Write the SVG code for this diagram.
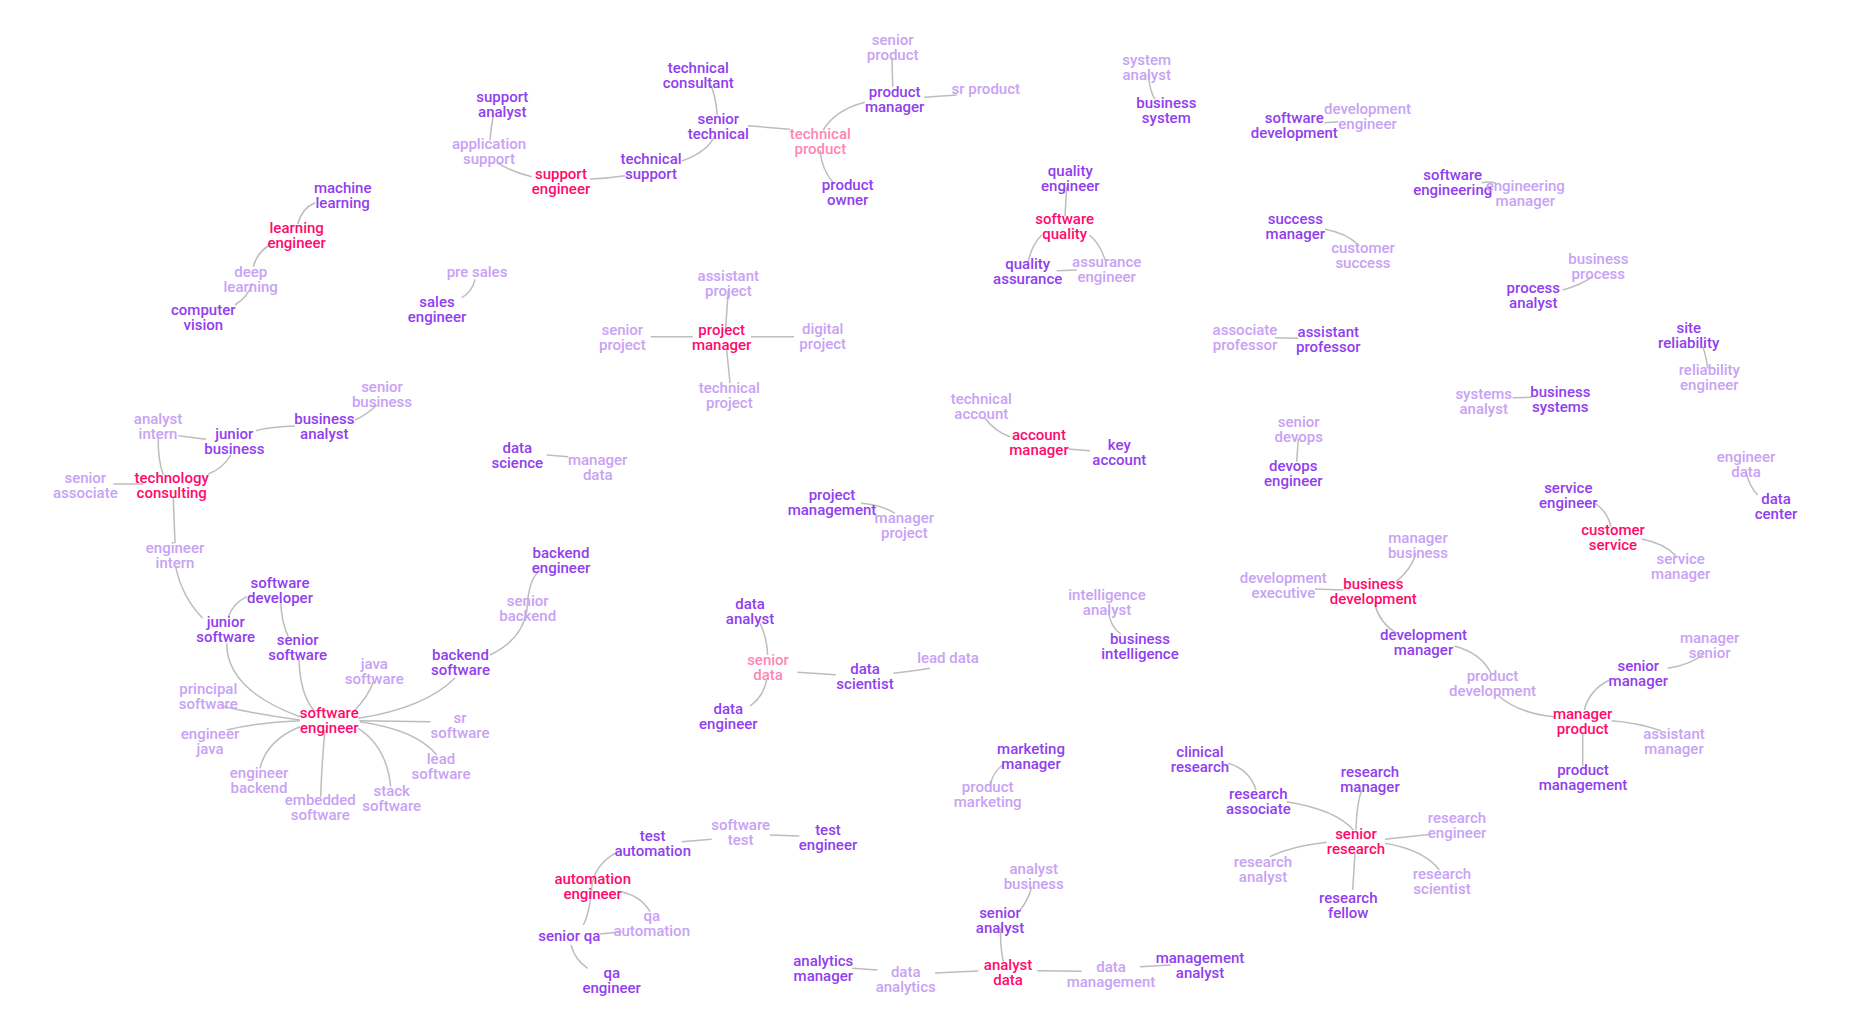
<svg xmlns="http://www.w3.org/2000/svg" width="1861" height="1025" viewBox="0 0 1861 1025">
<style>
text{font-family:Roboto,"Liberation Sans",sans-serif;font-size:15px;font-weight:500;text-anchor:middle}
.p{fill:#9040ee}.l{fill:#c8a2f4}.h{fill:#ff0a6e}.hl{fill:#ff86b6}
#links path{fill:none;stroke:#bdbdbd;stroke-width:1.5}
</style>
<rect width="1861" height="1025" fill="#fff"/>
<g id="links">
<path d="M315,202.7 Q301.7,208.3 297.7,224"/>
<path d="M269.3,245 Q256.7,253.3 253.3,266.7"/>
<path d="M252.3,283.3 Q248.3,296.7 235,305"/>
<path d="M461.7,297.7 Q472,292 475,279.3"/>
<path d="M493.3,116 Q491,126.7 490,140"/>
<path d="M496.7,162.7 Q511.7,171.7 531.7,176.7"/>
<path d="M590,179 Q608.3,178.3 625,175.7"/>
<path d="M681.7,161 Q708.3,151.7 715,135"/>
<path d="M717.3,115 Q715.7,95 710,83.3"/>
<path d="M747.7,125.7 L790,129.3"/>
<path d="M823.3,130 Q835,110 865,102.3"/>
<path d="M820,150 Q821.7,170 833.3,182.7"/>
<path d="M892.7,86.7 L892,57.3"/>
<path d="M924.3,97.3 L956.7,95"/>
<path d="M728.3,290 L725.7,328.3"/>
<path d="M650.7,336.7 L692.7,336.7"/>
<path d="M751,336.7 L794,336.7"/>
<path d="M1148.3,75 Q1150,91.7 1155,99.3"/>
<path d="M1324.3,122.7 L1338.3,121.7"/>
<path d="M1066.7,186.7 L1065,216"/>
<path d="M1041.7,235 Q1031.7,245 1028.3,261.7"/>
<path d="M1089.3,235 Q1100,243.3 1105,260"/>
<path d="M1056.7,270.7 L1076.7,270"/>
<path d="M1325,229.3 Q1346.7,233.3 1358.3,245"/>
<path d="M1275,337.7 L1298.3,338.3"/>
<path d="M1481.7,182.7 Q1490,181 1496,183.3"/>
<path d="M1562.7,290 Q1581,285 1592.7,276.7"/>
<path d="M1702.7,346.7 Q1706,355 1707.7,368.3"/>
<path d="M1512.7,397.7 L1531.7,397.3"/>
<path d="M1746,471.7 Q1749.3,486.7 1757.7,495"/>
<path d="M1595,503.3 Q1607.7,511.7 1611,526.7"/>
<path d="M1641.7,539 Q1664.3,543.3 1676,556"/>
<path d="M1416,553.3 Q1411,570 1396,581.7"/>
<path d="M1315,589 L1343.3,590"/>
<path d="M1375,605 Q1380,623.3 1396.7,633.3"/>
<path d="M1454.3,646 Q1481,653 1491,673.3"/>
<path d="M1667.7,668.3 Q1691,665 1704.3,653.3"/>
<path d="M1609.3,680 Q1589.3,690 1584.3,710"/>
<path d="M1497.7,695 Q1517.7,713.3 1554.3,716.7"/>
<path d="M1611.7,720.7 Q1637.7,722.7 1661,730.7"/>
<path d="M1582.7,733.3 L1582.7,766"/>
<path d="M1385,839.3 L1431,834.3"/>
<path d="M1385,843.3 Q1424.3,850 1439.3,870"/>
<path d="M1002.7,765 Q992.7,771.7 990,786"/>
<path d="M1228.3,763.3 Q1250,770 1256,790"/>
<path d="M1286.7,801.7 Q1336.7,810 1353.3,830"/>
<path d="M1361.7,790 Q1356.7,803.3 1356,830"/>
<path d="M1326.7,842.3 Q1290,846.7 1270,856.7"/>
<path d="M1355,853.3 L1352.7,890"/>
<path d="M1031.7,886.7 Q1028.3,900 1020,910"/>
<path d="M1000.7,928.3 Q1000,946.7 1003.3,961.7"/>
<path d="M1037.3,970.7 L1081.7,971.3"/>
<path d="M1140,966.7 L1170.7,965"/>
<path d="M978.3,971 L935,973"/>
<path d="M852.3,968.3 L877.3,970"/>
<path d="M766.7,680 Q763.3,696.7 750,706"/>
<path d="M681.7,841.7 L711.7,839.3"/>
<path d="M770,835 L799.3,836"/>
<path d="M615,853.3 Q595,865 592,885 Q590,912 583.3,925"/>
<path d="M621.7,891.7 Q641.7,896.7 650,911.7"/>
<path d="M600,934 L621.7,931.7"/>
<path d="M571,945 Q575,960 587.7,968.3"/>
<path d="M726.7,350 L730,383.3"/>
<path d="M546.7,455 L568.3,456.7"/>
<path d="M861,503.3 Q881.7,505 895,513.3"/>
<path d="M540,570 Q528,580 527,610 Q522,640 490,655"/>
<path d="M760,623.3 Q766.7,636.7 767.7,655"/>
<path d="M797.3,672.3 L835.7,674.7"/>
<path d="M893.3,673.3 Q915,671 930,668.3"/>
<path d="M985,418.3 Q995,431.7 1010,436.7"/>
<path d="M1068.3,449 L1090,450.7"/>
<path d="M1298.3,438.3 L1296.7,461.7"/>
<path d="M1108.3,610 Q1110,626.7 1120.7,634"/>
<path d="M376.7,405 Q366.7,415 355,420"/>
<path d="M295,426 Q266.7,427.3 256,430.7"/>
<path d="M178.3,435.7 L206,439.3"/>
<path d="M230.7,455 Q223.3,468.3 208.3,474"/>
<path d="M158.3,436.7 Q157.7,460 163.3,475"/>
<path d="M113.3,484 L143.3,484"/>
<path d="M173.3,498.3 L175,543.3"/>
<path d="M175.7,566.7 Q181.7,596.7 202.7,618.3"/>
<path d="M228.3,616.7 Q233.3,603.3 246.7,596.7"/>
<path d="M280.7,601.7 Q281.7,623.3 288.3,636.7"/>
<path d="M299,660 Q300,695 315,711.7"/>
<path d="M226.7,643.3 Q226.7,690 300,716.7"/>
<path d="M373.3,681.7 Q368.3,696.7 353.3,711.7"/>
<path d="M455,678 Q425,708 358.3,718.3"/>
<path d="M300,720 Q260,715 221.7,706"/>
<path d="M300,720.7 Q256.7,722.7 226.7,730"/>
<path d="M300,726.7 Q266.7,740 260,768.3"/>
<path d="M325,730 Q321.7,763.3 320.7,796.7"/>
<path d="M358.3,728.3 Q386.7,746.7 390.7,786.7"/>
<path d="M360,721.7 Q416.7,730 436.7,755"/>
<path d="M359.3,720.7 L430.7,721.7"/>
</g>
<g id="machine-learning"><text class="p" y="193.3"><tspan x="342.7">machine</tspan><tspan x="342.7" dy="15">learning</tspan></text></g>
<g id="learning-engineer"><text class="h" y="233.3"><tspan x="296.7">learning</tspan><tspan x="296.7" dy="15">engineer</tspan></text></g>
<g id="deep-learning"><text class="l" y="277"><tspan x="250.7">deep</tspan><tspan x="250.7" dy="15">learning</tspan></text></g>
<g id="computer-vision"><text class="p" y="315.3"><tspan x="203.3">computer</tspan><tspan x="203.3" dy="15">vision</tspan></text></g>
<g id="sales-engineer"><text class="p" y="307"><tspan x="437">sales</tspan><tspan x="437" dy="15">engineer</tspan></text></g>
<g id="pre-sales"><text class="l" x="477" y="276.5">pre sales</text></g>
<g id="application-support"><text class="l" y="148.7"><tspan x="489">application</tspan><tspan x="489" dy="15">support</tspan></text></g>
<g id="support-analyst"><text class="p" y="101.7"><tspan x="502.3">support</tspan><tspan x="502.3" dy="15">analyst</tspan></text></g>
<g id="support-engineer"><text class="h" y="179.3"><tspan x="561">support</tspan><tspan x="561" dy="15">engineer</tspan></text></g>
<g id="technical-support"><text class="p" y="164.3"><tspan x="651">technical</tspan><tspan x="651" dy="15">support</tspan></text></g>
<g id="technical-consultant"><text class="p" y="72.7"><tspan x="698.3">technical</tspan><tspan x="698.3" dy="15">consultant</tspan></text></g>
<g id="senior-technical"><text class="p" y="123.7"><tspan x="718.3">senior</tspan><tspan x="718.3" dy="15">technical</tspan></text></g>
<g id="technical-product"><text class="hl" y="138.7"><tspan x="820.3">technical</tspan><tspan x="820.3" dy="15">product</tspan></text></g>
<g id="product-owner"><text class="p" y="190.3"><tspan x="847.7">product</tspan><tspan x="847.7" dy="15">owner</tspan></text></g>
<g id="product-manager"><text class="p" y="96.7"><tspan x="894.7">product</tspan><tspan x="894.7" dy="15">manager</tspan></text></g>
<g id="senior-product"><text class="l" y="45.3"><tspan x="892.7">senior</tspan><tspan x="892.7" dy="15">product</tspan></text></g>
<g id="sr-product"><text class="l" x="985.8" y="93.7">sr product</text></g>
<g id="system-analyst"><text class="l" y="65"><tspan x="1146.7">system</tspan><tspan x="1146.7" dy="15">analyst</tspan></text></g>
<g id="business-system"><text class="p" y="107.7"><tspan x="1166.3">business</tspan><tspan x="1166.3" dy="15">system</tspan></text></g>
<g id="software-development"><text class="p" y="122.7"><tspan x="1294.3">software</tspan><tspan x="1294.3" dy="15">development</tspan></text></g>
<g id="development-engineer"><text class="l" y="114.3"><tspan x="1367.5">development</tspan><tspan x="1367.5" dy="15">engineer</tspan></text></g>
<g id="quality-engineer"><text class="p" y="176"><tspan x="1070.3">quality</tspan><tspan x="1070.3" dy="15">engineer</tspan></text></g>
<g id="software-quality"><text class="h" y="224.3"><tspan x="1064.7">software</tspan><tspan x="1064.7" dy="15">quality</tspan></text></g>
<g id="quality-assurance"><text class="p" y="269.3"><tspan x="1027.7">quality</tspan><tspan x="1027.7" dy="15">assurance</tspan></text></g>
<g id="assurance-engineer"><text class="l" y="266.7"><tspan x="1106.7">assurance</tspan><tspan x="1106.7" dy="15">engineer</tspan></text></g>
<g id="success-manager"><text class="p" y="224.3"><tspan x="1295.3">success</tspan><tspan x="1295.3" dy="15">manager</tspan></text></g>
<g id="customer-success"><text class="l" y="252.7"><tspan x="1363">customer</tspan><tspan x="1363" dy="15">success</tspan></text></g>
<g id="associate-professor"><text class="l" y="335.3"><tspan x="1245">associate</tspan><tspan x="1245" dy="15">professor</tspan></text></g>
<g id="assistant-professor"><text class="p" y="337"><tspan x="1328.3">assistant</tspan><tspan x="1328.3" dy="15">professor</tspan></text></g>
<g id="software-engineering"><text class="p" y="180.3"><tspan x="1452.7">software</tspan><tspan x="1452.7" dy="15">engineering</tspan></text></g>
<g id="engineering-manager"><text class="l" y="191"><tspan x="1525.3">engineering</tspan><tspan x="1525.3" dy="15">manager</tspan></text></g>
<g id="business-process"><text class="l" y="264.3"><tspan x="1598.3">business</tspan><tspan x="1598.3" dy="15">process</tspan></text></g>
<g id="process-analyst"><text class="p" y="292.7"><tspan x="1533.3">process</tspan><tspan x="1533.3" dy="15">analyst</tspan></text></g>
<g id="site-reliability"><text class="p" y="332.7"><tspan x="1688.7">site</tspan><tspan x="1688.7" dy="15">reliability</tspan></text></g>
<g id="reliability-engineer"><text class="l" y="375.3"><tspan x="1709.3">reliability</tspan><tspan x="1709.3" dy="15">engineer</tspan></text></g>
<g id="systems-analyst"><text class="l" y="399.3"><tspan x="1483.7">systems</tspan><tspan x="1483.7" dy="15">analyst</tspan></text></g>
<g id="business-systems"><text class="p" y="396.7"><tspan x="1560.3">business</tspan><tspan x="1560.3" dy="15">systems</tspan></text></g>
<g id="engineer-data"><text class="l" y="461.7"><tspan x="1746">engineer</tspan><tspan x="1746" dy="15">data</tspan></text></g>
<g id="data-center"><text class="p" y="503.7"><tspan x="1776">data</tspan><tspan x="1776" dy="15">center</tspan></text></g>
<g id="service-engineer"><text class="p" y="492.7"><tspan x="1568.3">service</tspan><tspan x="1568.3" dy="15">engineer</tspan></text></g>
<g id="customer-service"><text class="h" y="535"><tspan x="1613">customer</tspan><tspan x="1613" dy="15">service</tspan></text></g>
<g id="service-manager"><text class="l" y="563.7"><tspan x="1680.7">service</tspan><tspan x="1680.7" dy="15">manager</tspan></text></g>
<g id="manager-business"><text class="l" y="542.7"><tspan x="1418">manager</tspan><tspan x="1418" dy="15">business</tspan></text></g>
<g id="business-development"><text class="h" y="589.3"><tspan x="1373.3">business</tspan><tspan x="1373.3" dy="15">development</tspan></text></g>
<g id="development-executive"><text class="l" y="582.7"><tspan x="1283.3">development</tspan><tspan x="1283.3" dy="15">executive</tspan></text></g>
<g id="development-manager"><text class="p" y="640.3"><tspan x="1423.5">development</tspan><tspan x="1423.5" dy="15">manager</tspan></text></g>
<g id="product-development"><text class="l" y="681"><tspan x="1492.5">product</tspan><tspan x="1492.5" dy="15">development</tspan></text></g>
<g id="manager-senior"><text class="l" y="642.7"><tspan x="1709.7">manager</tspan><tspan x="1709.7" dy="15">senior</tspan></text></g>
<g id="senior-manager"><text class="p" y="671"><tspan x="1638.3">senior</tspan><tspan x="1638.3" dy="15">manager</tspan></text></g>
<g id="manager-product"><text class="h" y="718.7"><tspan x="1582.7">manager</tspan><tspan x="1582.7" dy="15">product</tspan></text></g>
<g id="assistant-manager"><text class="l" y="738.7"><tspan x="1674">assistant</tspan><tspan x="1674" dy="15">manager</tspan></text></g>
<g id="product-management"><text class="p" y="775"><tspan x="1583">product</tspan><tspan x="1583" dy="15">management</tspan></text></g>
<g id="research-engineer"><text class="l" y="822.7"><tspan x="1457">research</tspan><tspan x="1457" dy="15">engineer</tspan></text></g>
<g id="research-scientist"><text class="l" y="878.7"><tspan x="1442">research</tspan><tspan x="1442" dy="15">scientist</tspan></text></g>
<g id="marketing-manager"><text class="p" y="753.7"><tspan x="1031">marketing</tspan><tspan x="1031" dy="15">manager</tspan></text></g>
<g id="product-marketing"><text class="l" y="792"><tspan x="987.7">product</tspan><tspan x="987.7" dy="15">marketing</tspan></text></g>
<g id="clinical-research"><text class="p" y="757"><tspan x="1200">clinical</tspan><tspan x="1200" dy="15">research</tspan></text></g>
<g id="research-associate"><text class="p" y="799.3"><tspan x="1258.3">research</tspan><tspan x="1258.3" dy="15">associate</tspan></text></g>
<g id="research-manager"><text class="p" y="776.7"><tspan x="1370">research</tspan><tspan x="1370" dy="15">manager</tspan></text></g>
<g id="senior-research"><text class="h" y="838.7"><tspan x="1356">senior</tspan><tspan x="1356" dy="15">research</tspan></text></g>
<g id="research-analyst"><text class="l" y="866.7"><tspan x="1263">research</tspan><tspan x="1263" dy="15">analyst</tspan></text></g>
<g id="research-fellow"><text class="p" y="902.7"><tspan x="1348.3">research</tspan><tspan x="1348.3" dy="15">fellow</tspan></text></g>
<g id="analyst-business"><text class="l" y="873.7"><tspan x="1033.7">analyst</tspan><tspan x="1033.7" dy="15">business</tspan></text></g>
<g id="senior-analyst"><text class="p" y="917.7"><tspan x="1000">senior</tspan><tspan x="1000" dy="15">analyst</tspan></text></g>
<g id="analyst-data"><text class="h" y="970.3"><tspan x="1008">analyst</tspan><tspan x="1008" dy="15">data</tspan></text></g>
<g id="data-management"><text class="l" y="971.7"><tspan x="1111">data</tspan><tspan x="1111" dy="15">management</tspan></text></g>
<g id="management-analyst"><text class="p" y="962.7"><tspan x="1200">management</tspan><tspan x="1200" dy="15">analyst</tspan></text></g>
<g id="data-engineer"><text class="p" y="714.3"><tspan x="728.3">data</tspan><tspan x="728.3" dy="15">engineer</tspan></text></g>
<g id="data-scientist"><text class="p" y="674.3"><tspan x="865">data</tspan><tspan x="865" dy="15">scientist</tspan></text></g>
<g id="test-automation"><text class="p" y="841"><tspan x="652.7">test</tspan><tspan x="652.7" dy="15">automation</tspan></text></g>
<g id="software-test"><text class="l" y="830"><tspan x="740.7">software</tspan><tspan x="740.7" dy="15">test</tspan></text></g>
<g id="test-engineer"><text class="p" y="835.3"><tspan x="828">test</tspan><tspan x="828" dy="15">engineer</tspan></text></g>
<g id="automation-engineer"><text class="h" y="884.3"><tspan x="592.7">automation</tspan><tspan x="592.7" dy="15">engineer</tspan></text></g>
<g id="qa-automation"><text class="l" y="921"><tspan x="651.7">qa</tspan><tspan x="651.7" dy="15">automation</tspan></text></g>
<g id="senior-qa"><text class="p" x="569.3" y="941">senior qa</text></g>
<g id="qa-engineer"><text class="p" y="977.7"><tspan x="611.7">qa</tspan><tspan x="611.7" dy="15">engineer</tspan></text></g>
<g id="analytics-manager"><text class="p" y="966"><tspan x="823.3">analytics</tspan><tspan x="823.3" dy="15">manager</tspan></text></g>
<g id="data-analytics"><text class="l" y="977"><tspan x="905.7">data</tspan><tspan x="905.7" dy="15">analytics</tspan></text></g>
<g id="technical-project"><text class="l" y="392.7"><tspan x="729.3">technical</tspan><tspan x="729.3" dy="15">project</tspan></text></g>
<g id="assistant-project"><text class="l" y="281"><tspan x="728.3">assistant</tspan><tspan x="728.3" dy="15">project</tspan></text></g>
<g id="senior-project"><text class="l" y="334.7"><tspan x="622.3">senior</tspan><tspan x="622.3" dy="15">project</tspan></text></g>
<g id="project-manager"><text class="h" y="335.3"><tspan x="721.7">project</tspan><tspan x="721.7" dy="15">manager</tspan></text></g>
<g id="digital-project"><text class="l" y="334.3"><tspan x="822.7">digital</tspan><tspan x="822.7" dy="15">project</tspan></text></g>
<g id="data-science"><text class="p" y="452.7"><tspan x="517.3">data</tspan><tspan x="517.3" dy="15">science</tspan></text></g>
<g id="manager-data"><text class="l" y="465"><tspan x="597.7">manager</tspan><tspan x="597.7" dy="15">data</tspan></text></g>
<g id="project-management"><text class="p" y="500.3"><tspan x="832">project</tspan><tspan x="832" dy="15">management</tspan></text></g>
<g id="manager-project"><text class="l" y="522.7"><tspan x="904.3">manager</tspan><tspan x="904.3" dy="15">project</tspan></text></g>
<g id="backend-engineer"><text class="p" y="557.7"><tspan x="561">backend</tspan><tspan x="561" dy="15">engineer</tspan></text></g>
<g id="senior-backend"><text class="l" y="606"><tspan x="527.7">senior</tspan><tspan x="527.7" dy="15">backend</tspan></text></g>
<g id="backend-software"><text class="p" y="660.3"><tspan x="460.5">backend</tspan><tspan x="460.5" dy="15">software</tspan></text></g>
<g id="data-analyst"><text class="p" y="609.3"><tspan x="750">data</tspan><tspan x="750" dy="15">analyst</tspan></text></g>
<g id="senior-data"><text class="hl" y="665.3"><tspan x="768">senior</tspan><tspan x="768" dy="15">data</tspan></text></g>
<g id="lead-data"><text class="l" x="948" y="662.7">lead data</text></g>
<g id="technical-account"><text class="l" y="404.3"><tspan x="981.3">technical</tspan><tspan x="981.3" dy="15">account</tspan></text></g>
<g id="account-manager"><text class="h" y="440.3"><tspan x="1039">account</tspan><tspan x="1039" dy="15">manager</tspan></text></g>
<g id="key-account"><text class="p" y="450.3"><tspan x="1119.3">key</tspan><tspan x="1119.3" dy="15">account</tspan></text></g>
<g id="senior-devops"><text class="l" y="427"><tspan x="1298.7">senior</tspan><tspan x="1298.7" dy="15">devops</tspan></text></g>
<g id="devops-engineer"><text class="p" y="471"><tspan x="1293.3">devops</tspan><tspan x="1293.3" dy="15">engineer</tspan></text></g>
<g id="intelligence-analyst"><text class="l" y="600"><tspan x="1107">intelligence</tspan><tspan x="1107" dy="15">analyst</tspan></text></g>
<g id="business-intelligence"><text class="p" y="643.7"><tspan x="1140">business</tspan><tspan x="1140" dy="15">intelligence</tspan></text></g>
<g id="senior-business"><text class="l" y="391.7"><tspan x="382">senior</tspan><tspan x="382" dy="15">business</tspan></text></g>
<g id="business-analyst"><text class="p" y="423.7"><tspan x="324.3">business</tspan><tspan x="324.3" dy="15">analyst</tspan></text></g>
<g id="junior-business"><text class="p" y="439.3"><tspan x="234.3">junior</tspan><tspan x="234.3" dy="15">business</tspan></text></g>
<g id="analyst-intern"><text class="l" y="424.3"><tspan x="158">analyst</tspan><tspan x="158" dy="15">intern</tspan></text></g>
<g id="technology-consulting"><text class="h" y="482.7"><tspan x="171.7">technology</tspan><tspan x="171.7" dy="15">consulting</tspan></text></g>
<g id="senior-associate"><text class="l" y="482.7"><tspan x="85.3">senior</tspan><tspan x="85.3" dy="15">associate</tspan></text></g>
<g id="engineer-intern"><text class="l" y="553.3"><tspan x="175">engineer</tspan><tspan x="175" dy="15">intern</tspan></text></g>
<g id="junior-software"><text class="p" y="627"><tspan x="225.7">junior</tspan><tspan x="225.7" dy="15">software</tspan></text></g>
<g id="software-developer"><text class="p" y="587.7"><tspan x="280">software</tspan><tspan x="280" dy="15">developer</tspan></text></g>
<g id="senior-software"><text class="p" y="645.3"><tspan x="297.7">senior</tspan><tspan x="297.7" dy="15">software</tspan></text></g>
<g id="java-software"><text class="l" y="669.3"><tspan x="374.3">java</tspan><tspan x="374.3" dy="15">software</tspan></text></g>
<g id="software-engineer"><text class="h" y="718.3"><tspan x="329.3">software</tspan><tspan x="329.3" dy="15">engineer</tspan></text></g>
<g id="principal-software"><text class="l" y="694.3"><tspan x="208.3">principal</tspan><tspan x="208.3" dy="15">software</tspan></text></g>
<g id="engineer-java"><text class="l" y="739.3"><tspan x="210">engineer</tspan><tspan x="210" dy="15">java</tspan></text></g>
<g id="engineer-backend"><text class="l" y="777.7"><tspan x="259">engineer</tspan><tspan x="259" dy="15">backend</tspan></text></g>
<g id="embedded-software"><text class="l" y="805.3"><tspan x="320.3">embedded</tspan><tspan x="320.3" dy="15">software</tspan></text></g>
<g id="stack-software"><text class="l" y="796"><tspan x="391.7">stack</tspan><tspan x="391.7" dy="15">software</tspan></text></g>
<g id="lead-software"><text class="l" y="763.7"><tspan x="441">lead</tspan><tspan x="441" dy="15">software</tspan></text></g>
<g id="sr-software"><text class="l" y="722.7"><tspan x="460">sr</tspan><tspan x="460" dy="15">software</tspan></text></g>
</svg>
